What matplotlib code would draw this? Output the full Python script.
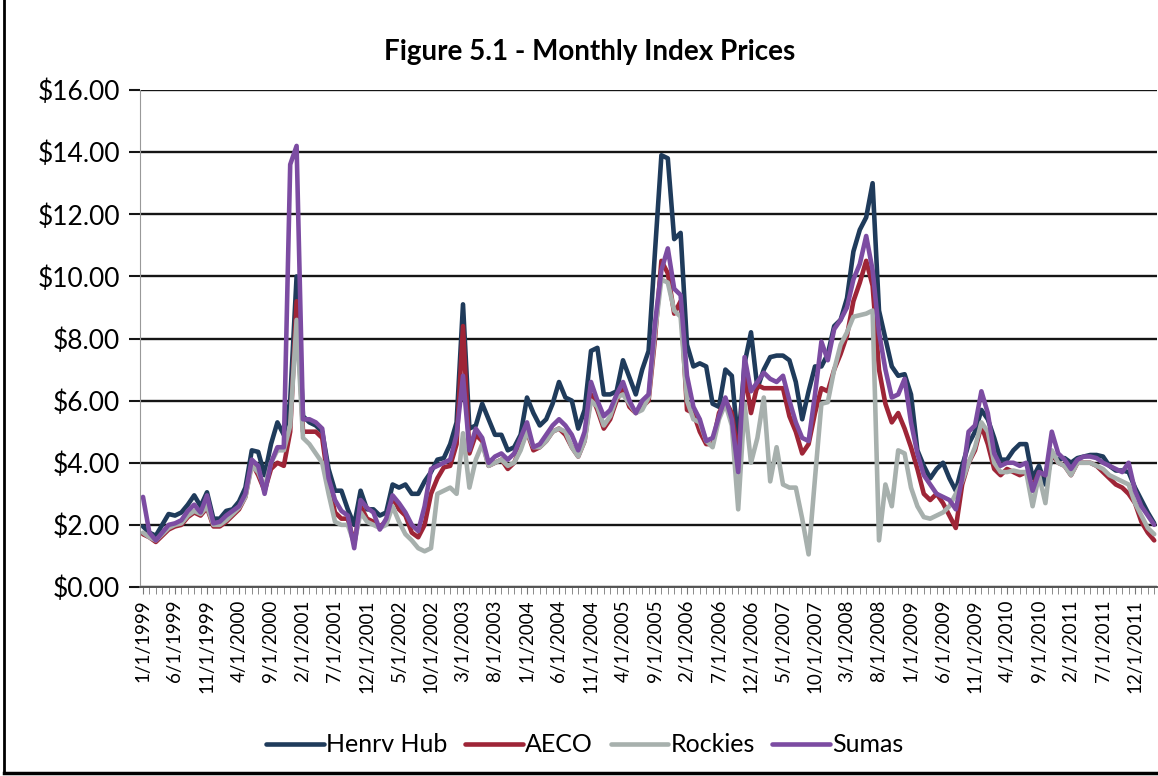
import numpy as np
import pandas as pd
import matplotlib
matplotlib.use('Agg')
import matplotlib.pyplot as plt
from matplotlib.lines import Line2D

# monthly index prices, Jan 1999 .. Mar 2012 ($/MMBtu)
henry_hub = [1.95, 1.75, 1.65, 2.0, 2.35, 2.3, 2.4, 2.65, 2.95, 2.6, 3.05, 2.2,
             2.2, 2.45, 2.5, 2.75, 3.2, 4.4, 4.35, 3.6, 4.6, 5.3, 4.9, 6.0,
             10.0, 5.5, 5.3, 5.2, 5.0, 3.8, 3.1, 3.1, 2.5, 2.0, 3.1, 2.5,
             2.5, 2.3, 2.4, 3.3, 3.2, 3.3, 3.0, 3.0, 3.4, 3.7, 4.1, 4.15,
             4.6, 5.3, 9.1, 5.1, 5.2, 5.9, 5.4, 4.9, 4.9, 4.4, 4.5, 4.9,
             6.1, 5.6, 5.2, 5.4, 5.9, 6.6, 6.1, 6.0, 5.1, 5.7, 7.6, 7.7,
             6.2, 6.2, 6.3, 7.3, 6.75, 6.2, 7.0, 7.6, 10.8, 13.9, 13.8, 11.2,
             11.4, 7.8, 7.1, 7.2, 7.1, 5.9, 5.8, 7.0, 6.8, 4.6, 7.2, 8.2,
             6.4, 7.0, 7.4, 7.45, 7.45, 7.3, 6.6, 5.4, 6.3, 7.1, 7.1, 7.5,
             8.4, 8.6, 9.3, 10.8, 11.5, 11.9, 13.0, 8.9, 8.0, 7.1, 6.8, 6.85,
             6.2, 4.4, 3.9, 3.5, 3.8, 4.0, 3.5, 3.1, 3.9, 4.6, 5.0, 5.7,
             5.4, 4.8, 4.1, 4.1, 4.4, 4.6, 4.6, 3.5, 3.9, 3.3, 4.2, 4.1,
             4.15, 4.0, 4.15, 4.2, 4.25, 4.25, 4.2, 3.9, 3.75, 3.75, 3.7, 3.2,
             2.8, 2.4, 2.05]

aeco = [1.7, 1.6, 1.45, 1.65, 1.85, 1.95, 2.0, 2.25, 2.4, 2.3, 2.55, 1.95,
        1.95, 2.1, 2.3, 2.5, 2.9, 4.0, 3.6, 3.1, 3.8, 4.0, 3.9, 5.0,
        9.2, 5.0, 5.0, 5.0, 4.8, 3.3, 2.4, 2.2, 2.2, 1.4, 2.6, 2.2,
        2.1, 1.95, 2.1, 2.9, 2.5, 2.3, 1.75, 1.6, 2.0, 3.0, 3.5, 3.85,
        3.9, 4.6, 8.4, 4.3, 4.9, 4.7, 3.9, 4.0, 4.1, 3.8, 4.0, 4.5,
        5.0, 4.4, 4.5, 4.7, 5.0, 5.1, 4.9, 4.5, 4.2, 4.7, 6.2, 5.7,
        5.1, 5.4, 6.0, 6.4, 5.8, 5.6, 5.8, 6.0, 8.0, 10.5, 10.1, 8.8,
        9.2, 5.7, 5.6, 5.0, 4.6, 4.6, 5.6, 6.0, 5.6, 4.2, 6.9, 5.6,
        6.5, 6.4, 6.4, 6.4, 6.4, 5.5, 5.0, 4.3, 4.6, 5.6, 6.4, 6.3,
        7.0, 7.5, 8.1, 9.2, 9.8, 10.5, 9.7, 7.0, 5.9, 5.3, 5.6, 5.1,
        4.5, 3.8, 3.0, 2.8, 3.0, 2.7, 2.3, 1.9, 3.3, 4.0, 4.4, 5.2,
        4.6, 3.8, 3.6, 3.8, 3.7, 3.6, 3.7, 3.2, 3.7, 3.6, 4.3, 4.0,
        3.9, 3.6, 4.0, 4.0, 4.0, 3.9, 3.7, 3.5, 3.3, 3.2, 3.0, 2.7,
        2.1, 1.75, 1.5]

rockies = [1.75, 1.6, 1.5, 1.7, 1.9, 2.0, 2.05, 2.3, 2.45, 2.35, 2.6, 2.0,
           2.0, 2.15, 2.35, 2.55, 2.9, 3.9, 3.7, 3.2, 4.0, 4.4, 4.4, 5.2,
           8.6, 4.8, 4.6, 4.3, 4.0, 3.0, 2.1, 2.0, 2.0, 1.4, 2.4, 2.1,
           2.0, 1.9, 2.0, 2.6, 2.1, 1.7, 1.5, 1.25, 1.15, 1.25, 3.0, 3.1,
           3.2, 3.0, 4.95, 3.2, 4.1, 4.6, 3.9, 4.0, 4.1, 3.9, 4.0, 4.4,
           5.0, 4.5, 4.5, 4.7, 5.0, 5.1, 5.0, 4.5, 4.2, 4.7, 6.0, 5.8,
           5.2, 5.5, 6.1, 6.2, 5.9, 5.6, 5.7, 6.1, 8.2, 9.9, 9.8, 8.9,
           8.7, 6.0, 5.4, 5.3, 4.7, 4.5, 5.4, 5.9, 5.2, 2.5, 5.9, 4.0,
           4.8, 6.1, 3.4, 4.5, 3.3, 3.2, 3.2, 2.2, 1.05, 3.5, 5.9, 5.95,
           7.0, 7.8, 8.2, 8.7, 8.75, 8.8, 8.9, 1.5, 3.3, 2.6, 4.4, 4.3,
           3.2, 2.6, 2.25, 2.2, 2.3, 2.4, 2.6, 3.0, 3.4, 4.0, 4.5, 5.3,
           5.0, 4.0, 3.7, 3.7, 3.75, 3.7, 3.7, 2.6, 3.6, 2.7, 4.4, 4.0,
           3.9, 3.6, 4.0, 4.0, 4.0, 3.9, 3.8, 3.6, 3.5, 3.4, 3.3, 2.7,
           2.3, 1.9, 1.7]

sumas = [2.9, 1.75, 1.5, 1.75, 2.0, 2.05, 2.15, 2.45, 2.65, 2.4, 2.95, 2.05,
         2.1, 2.3, 2.45, 2.6, 3.0, 4.1, 3.9, 3.0, 4.0, 4.5, 4.5, 13.6,
         14.2, 5.4, 5.4, 5.3, 5.1, 3.5, 2.8, 2.45, 2.3, 1.25, 2.8, 2.55,
         2.4, 1.85, 2.2, 2.95, 2.7, 2.4, 2.0, 1.8, 2.6, 3.8, 3.9, 4.0,
         4.1, 4.9, 6.8, 4.4, 5.1, 4.8, 4.0, 4.2, 4.3, 4.1, 4.3, 4.8,
         5.3, 4.5, 4.6, 4.9, 5.2, 5.4, 5.2, 4.9, 4.4, 5.0, 6.6, 6.0,
         5.5, 5.7, 6.2, 6.6, 6.0, 5.6, 6.0, 6.2, 8.5, 10.2, 10.9, 9.6,
         9.4, 6.8, 5.8, 5.4, 4.7, 4.8, 5.5, 6.1, 5.4, 3.7, 7.4, 6.3,
         6.6, 6.9, 6.7, 6.6, 6.8, 6.0, 5.3, 4.8, 4.7, 6.2, 7.9, 7.3,
         8.3, 8.6, 9.0, 9.9, 10.4, 11.3, 10.2, 8.2, 7.0, 6.1, 6.2, 6.7,
         5.3, 4.3, 3.6, 3.3, 3.0, 2.9, 2.8, 2.5, 3.5, 5.0, 5.2, 6.3,
         5.6, 4.3, 3.9, 4.0, 4.0, 3.9, 4.0, 3.1, 3.7, 3.6, 5.0, 4.3,
         4.1, 3.8, 4.1, 4.2, 4.2, 4.15, 4.0, 3.9, 3.8, 3.7, 4.0, 3.1,
         2.6, 2.3, 2.0]

series_names = ['Henrv Hub', 'AECO', 'Rockies', 'Sumas']
series_colors = ['#1f3b5b', '#9e2537', '#a7b0ad', '#7c4ca2']

months = pd.date_range('1999-01-01', periods=len(henry_hub), freq='MS')
month_labels = [f'{d.month}/1/{d.year}' for d in months]

plt.rcParams['font.family'] = ['Lato', 'DejaVu Sans']

W, H = 1158, 776
fig = plt.figure(figsize=(W / 100, H / 100), dpi=100)
ax = fig.add_axes([139.8 / W, (H - 587) / H, 1017.6 / W, 497 / H])

x = np.arange(len(months))
for vals, name, col in zip([henry_hub, aeco, rockies, sumas], series_names, series_colors):
    ax.plot(x, vals, color=col, lw=3.3, label=name, solid_joinstyle='round',
            solid_capstyle='round')

ax.set_xlim(-0.5, len(months) - 0.5)
ax.set_ylim(0, 16)
yt = np.arange(0, 17, 2)
ax.set_yticks(yt)
ax.set_yticklabels([f'${v:.2f}' for v in yt], fontsize=19)
ax.yaxis.grid(True, color='#151515', lw=1.7)
ax.set_axisbelow(True)

ax.set_xticks(x[::5])
ax.set_xticklabels(month_labels[::5], rotation=90, fontsize=13.5)
ax.set_xticks(x, minor=True)
ax.tick_params(axis='x', which='both', length=5, color='#777', pad=4)
ax.tick_params(axis='y', length=8, color='#151515', width=1.5, pad=6)

for s in ['top', 'right']:
    ax.spines[s].set_visible(False)
ax.spines['left'].set_color('#999')
ax.spines['bottom'].set_color('#555')
ax.spines['bottom'].set_linewidth(1.4)

fig.text(590 / W, 1 - 52 / H, 'Figure 5.1 - Monthly Index Prices', ha='center',
         va='center', fontsize=20, fontweight='bold')

fig.legend(loc='center', bbox_to_anchor=(585 / W, 1 - 745 / H), ncol=4,
           frameon=False, fontsize=18, handlelength=2.3, handletextpad=0.1,
           columnspacing=0.7)

# scanned frame: left and bottom edges only are visible
fig.add_artist(Line2D([4 / W, 4 / W], [1 - 773 / H, 1.0], color='black', lw=2,
                      transform=fig.transFigure))
fig.add_artist(Line2D([4 / W, 1.0], [1 - 773 / H, 1 - 773 / H], color='black',
                      lw=2.5, transform=fig.transFigure))

fig.savefig('out.png', dpi=100)
